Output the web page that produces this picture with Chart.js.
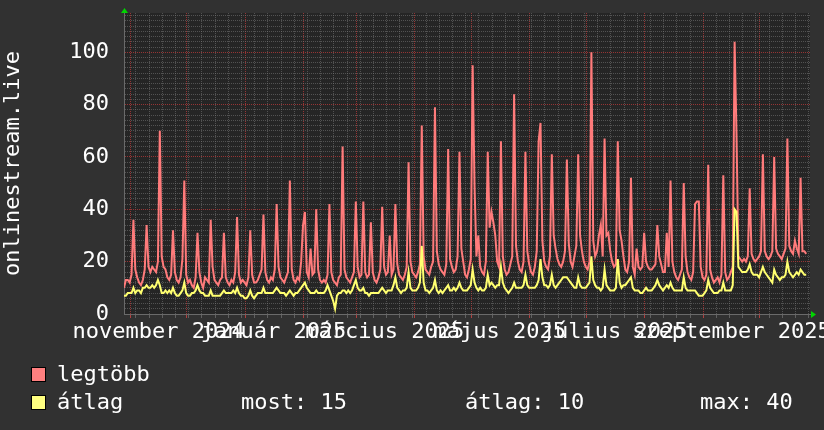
<!DOCTYPE html>
<html><head><meta charset="utf-8">
<script src="https://cdn.jsdelivr.net/npm/chart.js@4/dist/chart.umd.min.js"></script>
<style>
html,body{margin:0;padding:0;background:#313131;}
#wrap{position:relative;width:824px;height:430px;overflow:hidden;background:#313131;}
canvas{position:absolute;left:0;top:0;}
.lg{position:absolute;font-family:"DejaVu Sans Mono",monospace;font-size:22px;color:#ffffff;white-space:pre;line-height:26px;}
.sw{position:absolute;width:13px;height:13px;border:1px solid #000;}
</style></head>
<body><div id="wrap"><canvas id="c" width="824" height="430"></canvas></div>
<script>
// ---- data (one value per day, starting 2024-10-28) ----
const legtobb = [
10,13,13,12,15,36,17, 14,12,11,13,17,34,18, 16,18,17,16,20,70,22, 18,17,14,13,15,32,16,
13,12,14,21,51,15,12, 13,11,10,14,31,16,12, 10,14,13,12,36,18,13, 12,11,13,14,31,14,12,
11,13,12,16,37,15,12, 13,12,11,14,32,15,12, 12,13,15,17,38,16,13, 12,14,13,17,42,18,14,
13,12,14,16,51,17,13, 12,14,13,20,34,39,16, 14,25,15,16,40,17,13, 12,13,12,15,42,16,13,
12,11,14,15,64,17,14, 13,12,14,16,43,18,14, 15,43,16,14,15,35,16, 13,12,14,17,41,18,15,
16,30,15,17,42,19,15, 14,13,15,18,58,20,16, 15,14,16,19,72,22,17, 16,15,18,20,79,24,19,
17,16,15,19,63,21,18, 16,17,22,62,25,20,15, 14,17,21,95,49,22,30, 18,16,15,20,62,33,39,
35,30,20,18,66,22,17, 15,16,19,22,84,26,20, 17,16,20,62,24,19,16, 15,18,24,66,73,28,20,
18,17,22,61,30,25,21, 19,18,20,24,59,27,20, 18,22,26,61,30,24,20, 18,17,20,100,28,22,24,
30,34,22,67,30,31,24, 20,18,19,66,32,28,22, 17,16,20,52,18,15,25, 18,17,18,31,20,18,17,
17,18,19,34,22,19,16, 16,31,18,51,20,16,14, 13,15,17,50,22,16,14, 13,16,42,43,43,18,14,
13,15,57,17,14,12,13, 14,12,15,53,16,13,14, 16,18,104,69,22,21,20, 21,20,22,48,23,21,20,
21,22,24,61,24,22,21, 22,24,60,25,23,22,21, 23,25,67,26,24,23,28, 25,23,52,24,24,23
];
const atlag = [
7,7,8,8,8,10,8, 9,9,8,10,10,11,10, 10,11,10,11,13,11,8, 8,9,8,9,8,10,8,
7,7,8,9,12,8,7, 7,8,8,9,11,9,8, 8,7,7,7,9,7,7, 7,7,7,8,9,8,8,
8,8,9,8,10,8,7, 7,6,6,7,9,7,6, 7,8,8,8,10,8,8, 8,8,8,9,10,9,8,
8,8,7,8,9,8,7, 8,8,9,10,11,12,10, 9,8,8,8,9,8,8, 8,8,9,11,9,7,5,
2,7,8,8,9,9,8, 9,8,9,11,13,10,9, 9,10,8,8,7,8,8, 8,8,8,9,10,9,8,
9,9,9,11,14,10,9, 8,9,9,10,16,10,9, 9,9,10,12,26,12,9, 9,8,9,10,13,9,8,
9,8,9,10,11,9,9, 10,9,10,12,10,9,9, 9,10,11,17,12,10,9, 10,9,9,10,15,11,12,
11,10,11,11,18,12,10, 9,8,9,10,12,10,10, 10,10,11,15,11,10,10, 10,10,11,13,21,14,11,
11,10,11,15,11,10,11, 12,13,14,14,14,13,12, 11,10,10,14,11,10,10, 10,11,12,22,13,11,10,
10,9,10,17,11,10,9, 9,9,10,21,12,10,11, 11,12,13,14,10,9,9, 9,8,8,9,10,9,9,
9,10,11,13,11,10,9, 10,11,10,12,10,9,9, 9,9,9,14,10,9,9, 9,9,9,8,7,7,7,
8,9,13,10,9,8,8, 8,9,9,12,9,9,9, 9,11,40,39,18,17,16, 16,16,17,19,16,15,15,
15,14,16,18,16,15,14, 13,12,17,15,14,13,14, 14,15,20,16,15,14,15, 16,15,17,16,15,15
];
const seriesNames = ['legtöbb', 'átlag'];
const seriesColors = ['#ff7b7b', '#ffff70'];
const statNames = ['most', 'átlag', 'max'];
const statValues = [15, 10, 40];
const axisTitle = 'onlinestream.live';
const yTickLabels = [0, 20, 40, 60, 80, 100];
const tickLabels = ['november 2024','január 2025','március 2025','május 2025','július 2025','szeptember 2025'];
const labelMonths = [[2024,10],[2025,0],[2025,2],[2025,4],[2025,6],[2025,8]];
const monthStarts = [[2024,10],[2024,11],[2025,0],[2025,1],[2025,2],[2025,3],[2025,4],[2025,5],[2025,6],[2025,7],[2025,8],[2025,9]];
const firstMonday = [2024,10,4];

// ---- time helpers ----
const START = Date.UTC(2024, 9, 28, 16);
const DAY = 86400000;
const X_SPAN = 364;
const dayOf = (y, m, d = 1) => (Date.UTC(y, m, d) - START) / DAY;

const xTicks = [];
const monthVals = monthStarts.map(([y, m]) => dayOf(y, m));
for (let d = dayOf(...firstMonday); d <= X_SPAN; d += 7) {
  if (!monthVals.some(v => Math.abs(v - d) < 0.01)) xTicks.push({value: d, kind: 'week'});
}
monthVals.forEach(v => xTicks.push({value: v, kind: 'month'}));
labelMonths.forEach(([y, m], i) => xTicks.push({value: dayOf(y, m) + 15, kind: 'label', txt: tickLabels[i]}));
xTicks.sort((a, b) => a.value - b.value);

const toPts = arr => arr.map((v, i) => ({x: i, y: v}));

const FONT = {family: "'DejaVu Sans Mono', monospace", size: 22};
const GRID_MINOR = 'rgba(120,120,120,0.55)';
const GRID_MAJOR = 'rgba(170,55,55,0.85)';

const bgPlugin = {
  id: 'bg',
  beforeDraw(chart) {
    const {ctx, chartArea: a} = chart;
    ctx.save();
    ctx.fillStyle = '#313131';
    ctx.fillRect(0, 0, chart.width, chart.height);
    ctx.fillStyle = '#252525';
    ctx.fillRect(a.left, a.top, a.right - a.left, a.bottom - a.top);
    ctx.restore();
  },
  afterDraw(chart) {
    const {ctx, chartArea: a} = chart;
    ctx.save();
    ctx.fillStyle = '#00d400';
    ctx.beginPath();
    ctx.moveTo(a.left - 3, a.top);
    ctx.lineTo(a.left + 4, a.top);
    ctx.lineTo(a.left + 0.5, a.top - 5);
    ctx.closePath(); ctx.fill();
    ctx.beginPath();
    ctx.moveTo(a.right + 1, a.bottom - 3);
    ctx.lineTo(a.right + 1, a.bottom + 4);
    ctx.lineTo(a.right + 6, a.bottom + 0.5);
    ctx.closePath(); ctx.fill();
    ctx.restore();
  }
};

new Chart(document.getElementById('c'), {
  type: 'line',
  data: {
    datasets: [
      {label: seriesNames[0], data: toPts(legtobb), borderColor: seriesColors[0], borderWidth: 2, pointRadius: 0, tension: 0, order: 2},
      {label: seriesNames[1], data: toPts(atlag), borderColor: seriesColors[1], borderWidth: 2, pointRadius: 0, tension: 0, order: 1}
    ]
  },
  options: {
    responsive: false,
    devicePixelRatio: 1,
    animation: false,
    parsing: true,
    layout: {padding: {left: 0, top: 13, right: 14, bottom: 0}},
    plugins: {legend: {display: false}, tooltip: {enabled: false}},
    scales: {
      x: {
        type: 'linear',
        min: 0, max: X_SPAN,
        afterBuildTicks: s => { s.ticks = xTicks.map(t => Object.assign({}, t)); },
        afterFit: s => { s.height = 116; s.paddingLeft = 0; s.paddingRight = 0; },
        ticks: {
          autoSkip: false, maxRotation: 0, minRotation: 0,
          color: '#ffffff', font: FONT, padding: 1,
          callback: (v, i, ts) => ts[i].txt || ''
        },
        grid: {
          color: c => c.tick && c.tick.kind === 'month' ? GRID_MAJOR : (c.tick && c.tick.kind === 'week' ? GRID_MINOR : 'rgba(0,0,0,0)'),
          tickColor: c => c.tick && c.tick.kind === 'month' ? '#b04040' : (c.tick && c.tick.kind === 'week' ? '#606060' : 'rgba(0,0,0,0)'),
          tickLength: 4,
          tickBorderDash: [],
          lineWidth: 1
        },
        border: {color: '#6a6a6a', dash: [1, 1]}
      },
      y: {
        min: 0, max: 115,
        afterFit: s => { s.width = 124; s.paddingTop = 0; s.paddingBottom = 0; },
        ticks: {
          stepSize: 2, includeBounds: false, autoSkip: false,
          color: '#ffffff', font: FONT, padding: 15,
          callback: v => yTickLabels.includes(v) ? String(v) : ''
        },
        grid: {
          drawTicks: false,
          color: c => {
            if (!c.tick) return GRID_MINOR;
            if (c.tick.value === 0) return 'rgba(0,0,0,0)';
            return yTickLabels.includes(c.tick.value) ? GRID_MAJOR : GRID_MINOR;
          },
          lineWidth: 1
        },
        border: {color: '#6a6a6a', dash: [1, 1]},
        title: {display: true, text: axisTitle, color: '#ffffff', font: FONT, padding: {top: 0, bottom: 0}}
      }
    }
  },
  plugins: [bgPlugin]
});

// ---- legend (rrdtool style) ----
const wrap = document.getElementById('wrap');
function addEl(cls, style, text) {
  const d = document.createElement('div');
  d.className = cls;
  Object.assign(d.style, style);
  if (text !== undefined) d.textContent = text;
  wrap.appendChild(d);
}
const rowTops = [361, 389];
seriesNames.forEach((n, i) => {
  addEl('sw', {left: '31px', top: (rowTops[i] + 6) + 'px', background: seriesColors[i] === '#ff7b7b' ? '#ff7f7f' : '#ffff80'});
  addEl('lg', {left: '57px', top: rowTops[i] + 'px'}, n);
});
const statLefts = [241, 465, 700];
statNames.forEach((n, i) => addEl('lg', {left: statLefts[i] + 'px', top: rowTops[1] + 'px'}, n + ': ' + statValues[i]));
</script>
</body></html>
